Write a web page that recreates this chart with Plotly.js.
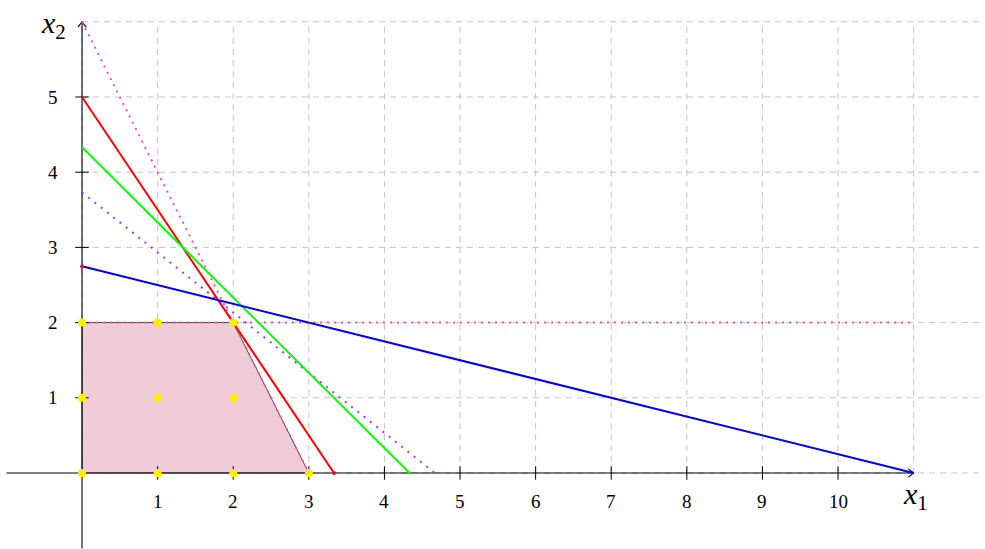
<!DOCTYPE html>
<html>
<head>
<meta charset="utf-8">
<script src="https://cdn.plot.ly/plotly-3.0.1.min.js"></script>
<style>html,body{margin:0;padding:0;background:#fff;}#chart{width:985px;height:549px;}</style>
</head>
<body>
<div id="chart"></div>
<script>
// ---- data ----
const feasibleX = [0, 0, 2, 3, 0];
const feasibleY = [0, 2, 2, 0, 0];
const latticeX = [0, 1, 2, 3, 0, 1, 2, 0, 1, 2];
const latticeY = [0, 0, 0, 0, 1, 1, 1, 2, 2, 2];
const redX = [0, 3.333];   const redY = [5, 0];
const greenX = [0, 4.333]; const greenY = [4.333, 0];
const blueX = [0, 11];     const blueY = [2.75, 0];
const pinkDiagX = [0, 3];  const pinkDiagY = [6, 0];
const pinkHorX = [0, 11];  const pinkHorY = [2, 2];
const purpleX = [0, 4.667]; const purpleY = [3.733, 0];
const endMarkX = [0, 3.333]; const endMarkY = [2.75, 0];
const xTicks = [1, 2, 3, 4, 5, 6, 7, 8, 9, 10];
const yTicks = [1, 2, 3, 4, 5];
const gridX = [0, 1, 2, 3, 4, 5, 6, 7, 8, 9, 10, 11];
const gridY = [0, 1, 2, 3, 4, 5, 6];
const gridXMax = 11.9, gridYMax = 6;
const axisMinX = -1, axisMaxX = 11, axisMinY = -1, axisMaxY = 6;

const FONT = 'Liberation Serif';
const tickLen = 0.09;
const headBackX = 0.07, headHalfY = 0.055;
const headBackY = 0.07, headHalfX = 0.055;

const xtX = [], xtY = [], ytX = [], ytY = [];
xTicks.forEach(v => { xtX.push(v, v, null); xtY.push(-tickLen, tickLen, null); });
yTicks.forEach(v => { ytX.push(-tickLen, tickLen, null); ytY.push(v, v, null); });

const traces = [
  {x: feasibleX, y: feasibleY, mode: 'lines', fill: 'toself', fillcolor: '#f0cbd8',
   line: {color: '#222', width: 0.8}},
  {x: [axisMinX, axisMaxX], y: [0, 0], mode: 'lines', line: {color: '#000', width: 1.1}},
  {x: [0, 0], y: [axisMinY, axisMaxY], mode: 'lines', line: {color: '#000', width: 1.1}},
  {x: [axisMaxX - headBackX, axisMaxX, axisMaxX - headBackX], y: [headHalfY, 0, -headHalfY],
   mode: 'lines', line: {color: '#000', width: 1.1}},
  {x: [-headHalfX, 0, headHalfX], y: [axisMaxY - headBackY, axisMaxY, axisMaxY - headBackY],
   mode: 'lines', line: {color: '#000', width: 1.1}},
  {x: xtX, y: xtY, mode: 'lines', line: {color: '#000', width: 1}},
  {x: ytX, y: ytY, mode: 'lines', line: {color: '#000', width: 1}},
  {x: pinkHorX, y: pinkHorY, mode: 'lines', line: {color: '#ff4fa3', width: 2, dash: '2px,5px'}},
  {x: pinkDiagX, y: pinkDiagY, mode: 'lines', line: {color: '#ff4fa3', width: 2, dash: '2px,5px'}},
  {x: purpleX, y: purpleY, mode: 'lines', line: {color: '#9b3cf0', width: 2, dash: '2px,6px'}},
  {x: redX, y: redY, mode: 'lines', line: {color: '#ff0000', width: 2}},
  {x: greenX, y: greenY, mode: 'lines', line: {color: '#00ff00', width: 2}},
  {x: blueX, y: blueY, mode: 'lines', line: {color: '#0000f0', width: 2}},
  {x: endMarkX, y: endMarkY, mode: 'markers', marker: {color: '#c8143c', size: 4}},
  {x: latticeX, y: latticeY, mode: 'markers', marker: {color: '#ffee00', size: 8}}
];

const shapes = [];
gridY.forEach(v => shapes.push({type: 'line', xref: 'x', yref: 'y', x0: 0, x1: gridXMax, y0: v, y1: v,
  line: {color: '#c4c4c4', width: 1, dash: '6px,5px'}, layer: 'below'}));
gridX.forEach(v => shapes.push({type: 'line', xref: 'x', yref: 'y', x0: v, x1: v, y0: 0, y1: gridYMax,
  line: {color: '#c4c4c4', width: 1, dash: '6px,5px'}, layer: 'below'}));

const annotations = [];
xTicks.forEach(v => annotations.push({x: v, y: 0, xref: 'x', yref: 'y', text: String(v), showarrow: false,
  yshift: -29, font: {family: FONT, size: 19, color: '#000'}}));
yTicks.forEach(v => annotations.push({x: 0, y: v, xref: 'x', yref: 'y', text: String(v), showarrow: false,
  xanchor: 'right', xshift: -22, font: {family: FONT, size: 19, color: '#000'}}));
annotations.push({x: axisMaxX, y: 0, xref: 'x', yref: 'y', text: '<i>x</i><sub>1</sub>', showarrow: false,
  yshift: -23, xshift: 2, font: {family: FONT, size: 30, color: '#000'}});
annotations.push({x: 0, y: axisMaxY, xref: 'x', yref: 'y', text: '<i>x</i><sub>2</sub>', showarrow: false,
  xanchor: 'right', xshift: -14, yshift: -3, font: {family: FONT, size: 30, color: '#000'}});

const layout = {
  width: 985, height: 549,
  margin: {l: 0, r: 0, t: 0, b: 0},
  paper_bgcolor: '#fff', plot_bgcolor: '#fff',
  showlegend: false,
  hovermode: false,
  xaxis: {range: [-1.085, 11.944], visible: false, fixedrange: true},
  yaxis: {range: [-1.011, 6.29], visible: false, fixedrange: true},
  shapes: shapes,
  annotations: annotations
};

Plotly.newPlot('chart', traces, layout, {displayModeBar: false, staticPlot: true});
</script>
</body>
</html>
